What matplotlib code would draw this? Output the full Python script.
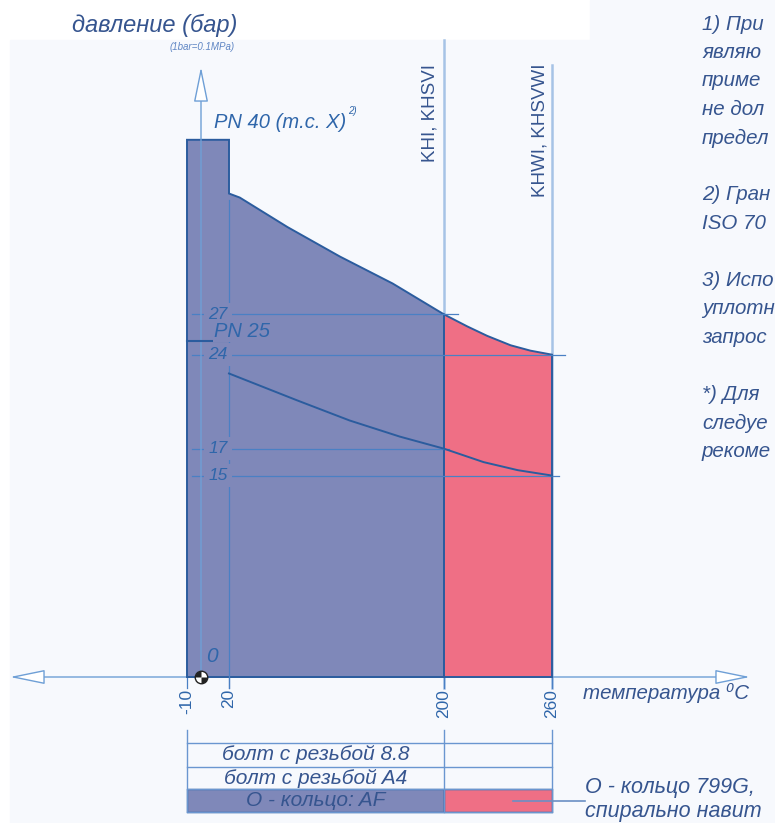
import numpy as np
import matplotlib
matplotlib.use('Agg')
import matplotlib.pyplot as plt
from matplotlib.path import Path
from matplotlib.patches import Rectangle

# --- данные ---
tick_temps = [-10, 20, 200, 260]
pn40 = 40
pn25 = 25
upper_t = [20, 29, 69, 113, 157, 200, 213, 224, 237, 248, 260]
upper_p = [36.0, 35.7, 33.5, 31.3, 29.3, 27.0, 26.1, 25.4, 24.7, 24.3, 24.0]
lower_t = [20, 77, 121, 163, 200, 222, 241, 260]
lower_p = [22.6, 20.6, 19.1, 17.9, 17.0, 16.0, 15.4, 15.0]
guide_levels = [27, 24, 17, 15]
guide_ends = [208, 267, 203, 264]
table_rows = ['болт с резьбой 8.8', 'болт с резьбой A4', 'О - кольцо: AF']
# правая колонка примечаний обрезана краем картинки
notes = ['1) При', 'являю', 'приме', 'не дол', 'предел', '',
         '2) Гран', 'ISO 70', '',
         '3) Испо', 'уплотн', 'запрос', '',
         '*) Для', 'следуе', 'рекоме']
oring_note = ['О - кольцо 799G,', 'спирально навит']

# цвета
blue_fill = '#7f88b9'
red_fill = '#ef6f85'
edge = '#2b5c9e'
guide = '#4a80c4'
light = '#a6c3e6'
txt = '#36558f'
num = '#2f66aa'
arial = ['Liberation Sans', 'DejaVu Sans']

W, H = 775, 823
fig = plt.figure(figsize=(W / 100, H / 100), dpi=100)
ax = fig.add_axes([0, 0, 1, 1])
ax.patch.set_visible(False)

# шкала температуры на схеме неравномерная
XD = [-200, -10, 20, 200, 260, 600]
XP = [-79, 187, 229, 444, 552, 1164]
fwd = lambda x: np.interp(x, XD, XP)
inv = lambda p: np.interp(p, XP, XD)
ax.set_xscale('function', functions=(fwd, inv))
Y0, PPB = 677, 13.43
py2y = lambda py: (Y0 - py) / PPB
px2x = lambda px: float(inv(px))
ax.set_xlim(px2x(0), px2x(W))
ax.set_ylim(py2y(H), py2y(0))
ax.axis('off')

# бледный фон
fig.add_artist(Rectangle((10 / W, 0), 765 / W, (H - 40) / H, transform=fig.transFigure,
                         color='#f7f9fd', zorder=-5))
fig.add_artist(Rectangle((590 / W, 0), 185 / W, 1, transform=fig.transFigure,
                         color='#f7f9fd', zorder=-5))

# области
ut = np.array(upper_t)
up = np.array(upper_p)
left = ut <= 200
right = ut >= 200
ax.fill([-10, -10, 20] + list(ut[left]) + [200], [0, pn40, pn40] + list(up[left]) + [0],
        fc=blue_fill, ec=edge, lw=1.4, zorder=2)
ax.fill([200] + list(ut[right]) + [260], [0] + list(up[right]) + [0],
        fc=red_fill, ec=edge, lw=1.4, zorder=2)
ax.plot(lower_t, lower_p, color=edge, lw=1.4, zorder=4)
ax.plot([-10, 20], [pn25, pn25], color=edge, lw=1.5, zorder=4)

# вертикали KHI / KHWI
ax.plot([200, 200], [py2y(688), py2y(40)], color=light, lw=1.8, zorder=1)
ax.plot([260, 260], [py2y(688), py2y(65)], color=light, lw=1.8, zorder=1)
ax.text(px2x(430), py2y(64), 'KHI, KHSVI', rotation=90, ha='center', va='top',
        fontsize=13.5, color=txt, family=arial)
ax.text(px2x(540), py2y(64), 'KHWI, KHSVWI', rotation=90, ha='center', va='top',
        fontsize=13.5, color=txt, family=arial)

# вертикаль 20 и засечки
ax.plot([20, 20], [py2y(688), py2y(200)], color=guide, lw=0.9, zorder=3)
for t in tick_temps:
    ax.plot([t, t], [py2y(688), 0], color=guide, lw=0.9, zorder=1)
    ax.text(t, py2y(689), str(t), rotation=90, ha='center', va='top',
            fontsize=12.5, color=num, family=arial)

# горизонтальные уровни
for lvl, end in zip(guide_levels, guide_ends):
    ax.plot([px2x(192), end], [lvl, lvl], color=guide, lw=0.9, zorder=3)
    ax.text(px2x(218), lvl, str(lvl), ha='center', va='center', fontsize=12.5,
            style='italic', color=num, family=arial, zorder=5,
            bbox=dict(fc=blue_fill, ec='none', pad=3))
ax.text(px2x(214), py2y(332), 'PN 25', ha='left', va='center', fontsize=14.5,
        style='italic', color=num, family=arial, zorder=5,
        bbox=dict(fc=blue_fill, ec='none', pad=0.5))
ax.text(px2x(214), py2y(122), 'PN 40 (m.c. X)', ha='left', va='center', fontsize=14.5,
        style='italic', color=num, family=arial)
ax.text(px2x(348), py2y(111), '2)', ha='left', va='center', fontsize=7,
        style='italic', color=num, family=arial)

# оси со стрелками
ax.annotate('', xy=(px2x(10), 0), xytext=(px2x(750), 0),
            arrowprops=dict(arrowstyle='<|-|>,head_length=2.2,head_width=0.45',
                            mutation_scale=10, fc='white', ec='#6e9fd6', lw=1,
                            shrinkA=0, shrinkB=0), zorder=1.5)
ax.annotate('', xy=(0, py2y(67)), xytext=(0, 0),
            arrowprops=dict(arrowstyle='-|>,head_length=2.2,head_width=0.45',
                            mutation_scale=10, fc='white', ec='#6e9fd6', lw=1,
                            shrinkA=0, shrinkB=0), zorder=3)
ax.plot(0, 0, marker='o', ms=9, mfc='white', mec='#222222', mew=1, zorder=6)
for a in (90, 270):
    ax.plot(0, 0, marker=Path.wedge(a, a + 90), ms=9, mfc='#222222', mec='none', zorder=7)
ax.text(px2x(212), py2y(656), '0', ha='center', va='center', fontsize=15,
        style='italic', color=num, family=arial, zorder=5)

# подписи осей
fig.text(72 / W, 1 - 25 / H, 'давление (бар)', ha='left', va='center', fontsize=17,
         style='italic', color=txt, family=arial)
fig.text(202 / W, 1 - 47 / H, '(1bar=0.1MPa)', ha='center', va='center', fontsize=7,
         style='italic', color='#5f86c4', family=arial)
fig.text(583 / W, 1 - 693 / H, 'температура ⁰C', ha='left', va='center', fontsize=14.8,
         style='italic', color=txt, family=arial)

# примечания справа
for i, line in enumerate(notes):
    fig.text(702 / W, 1 - (24 + 28.5 * i) / H, line, ha='left', va='center', fontsize=14.8,
             style='italic', color=txt, family=arial)

# таблица материалов
row_px = [743, 767, 789, 812]
for c in (-10, 200, 260):
    ax.plot([c, c], [py2y(730), py2y(812)], color='#6a96d0', lw=1, zorder=3)
for r in row_px:
    ax.plot([-10, 260], [py2y(r), py2y(r)], color='#6a96d0', lw=1, zorder=3)
ax.fill([-10, 200, 200, -10], [py2y(789), py2y(789), py2y(812), py2y(812)],
        fc=blue_fill, ec=edge, lw=1, zorder=2)
ax.fill([200, 260, 260, 200], [py2y(789), py2y(789), py2y(812), py2y(812)],
        fc=red_fill, ec=edge, lw=1, zorder=2)
xc = px2x((fwd(-10) + fwd(200)) / 2)
for i, lab in enumerate(table_rows):
    ymid = py2y((row_px[i] + row_px[i + 1]) / 2)
    ax.text(xc, ymid, lab, ha='center', va='center', fontsize=15, style='italic',
            color=txt, family=arial, zorder=5)
ax.plot([px2x(513), px2x(585)], [py2y(801), py2y(801)], color='#6a8fc4', lw=1.2, zorder=4)
for i, line in enumerate(oring_note):
    fig.text(585 / W, 1 - (787 + 25 * i) / H, line, ha='left', va='center',
             fontsize=15.5, style='italic', color=txt, family=arial)

plt.savefig('out.png', dpi=100)
